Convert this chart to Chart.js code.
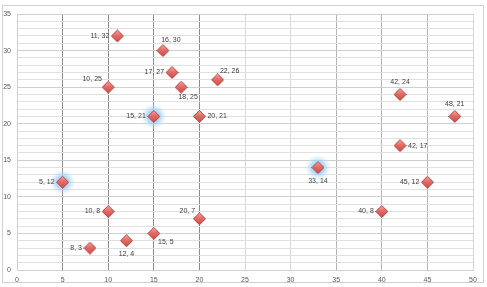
<!DOCTYPE html>
<html>
<head>
<meta charset="utf-8">
<script src="https://cdn.jsdelivr.net/npm/chart.js@4/dist/chart.umd.min.js"></script>
<style>
html,body{margin:0;padding:0;background:#fff;}
#wrap{position:absolute;left:0;top:0;width:487px;height:287px;}
</style>
</head>
<body>
<div id="wrap"><canvas id="c" width="487" height="287"></canvas></div>
<script>
// ---- data ----
const xValues = [11, 16, 17, 18, 22, 10, 15, 20, 42, 48, 42, 5, 33, 45, 10, 40, 20, 8, 12, 15];
const yValues = [32, 30, 27, 25, 26, 25, 21, 21, 24, 21, 17, 12, 14, 12, 8, 8, 7, 3, 4, 5];
const highlightX = [5, 15, 33];
const highlightY = [12, 21, 14];
const xTicks = [0, 5, 10, 15, 20, 25, 30, 35, 40, 45, 50];
const yTicks = [0, 5, 10, 15, 20, 25, 30, 35];
// label placement per point (style)
const labelPlacement = ['L','AR','L','BR','AR2','AL','L','R','A','A','R','L','B','L','L','L','AL2','L','B','BR2'];

const placementOffsets = {
  L:   {dx:-8, dy:0,  align:'right'},
  R:   {dx:8,  dy:0,  align:'left'},
  A:   {dx:0,  dy:-12, align:'center'},
  B:   {dx:0,  dy:13, align:'center'},
  AR:  {dx:8,  dy:-11, align:'center'},
  AR2: {dx:12, dy:-9, align:'center'},
  BR:  {dx:7,  dy:10, align:'center'},
  BR2: {dx:12, dy:9,  align:'center'},
  AL:  {dx:-16,dy:-8, align:'center'},
  AL2: {dx:-12,dy:-8, align:'center'}
};

const mainData = xValues.map((x, i) => ({x: x, y: yValues[i]}));
const glowData = highlightX.map((x, i) => ({x: x, y: highlightY[i]}));

const FONT = '"Liberation Sans", Arial, sans-serif';

// gradient diamond marker image
function makeDiamond() {
  const s = 13;
  const cv = document.createElement('canvas');
  cv.width = s; cv.height = s;
  const c = cv.getContext('2d');
  const h = s / 2;
  const g = c.createLinearGradient(0, 0.5, 0, s - 0.5);
  g.addColorStop(0, '#f7a9a7');
  g.addColorStop(0.45, '#e46c68');
  g.addColorStop(1, '#c4504c');
  c.beginPath();
  c.moveTo(h, 0.5);
  c.lineTo(s - 0.5, h);
  c.lineTo(h, s - 0.5);
  c.lineTo(0.5, h);
  c.closePath();
  c.fillStyle = g;
  c.fill();
  c.strokeStyle = '#b9423e';
  c.lineWidth = 1;
  c.stroke();
  return cv;
}
const diamondImg = makeDiamond();

const glowPlugin = {
  id: 'glow',
  beforeDatasetsDraw(chart) {
    const meta = chart.getDatasetMeta(0);
    const ctx = chart.ctx;
    ctx.save();
    meta.data.forEach(pt => {
      const g = ctx.createRadialGradient(pt.x, pt.y, 0, pt.x, pt.y, 13);
      g.addColorStop(0, 'rgba(120,190,240,0.95)');
      g.addColorStop(0.5, 'rgba(150,205,245,0.7)');
      g.addColorStop(1, 'rgba(200,230,250,0)');
      ctx.fillStyle = g;
      ctx.beginPath();
      ctx.arc(pt.x, pt.y, 13, 0, Math.PI * 2);
      ctx.fill();
    });
    ctx.restore();
  }
};

const labelPlugin = {
  id: 'ptlabels',
  afterDatasetsDraw(chart) {
    const meta = chart.getDatasetMeta(1);
    const ctx = chart.ctx;
    ctx.save();
    ctx.font = '7px ' + FONT;
    ctx.fillStyle = '#404040';
    ctx.textBaseline = 'middle';
    meta.data.forEach((pt, i) => {
      const p = placementOffsets[labelPlacement[i]];
      ctx.textAlign = p.align;
      ctx.fillText(xValues[i] + ', ' + yValues[i], pt.x + p.dx, pt.y + p.dy);
    });
    ctx.restore();
  }
};

const framePlugin = {
  id: 'frame',
  afterDraw(chart) {
    const ctx = chart.ctx;
    ctx.save();
    ctx.strokeStyle = '#d0d0d0';
    ctx.lineWidth = 1;
    ctx.strokeRect(2.5, 5.5, 481, 277);
    ctx.restore();
  }
};

function vColor(v) {
  if (v === 5 || v === 10 || v === 15 || v === 20) return '#8c8c8c';
  if (v === 35 || v === 40 || v === 45) return '#b4b4b4';
  return '#d6d6d6';
}

new Chart(document.getElementById('c'), {
  type: 'scatter',
  data: {
    datasets: [
      {
        data: glowData,
        pointRadius: 0,
        pointHoverRadius: 0,
        showLine: false
      },
      {
        data: mainData,
        pointStyle: diamondImg,
        pointRadius: 6,
        pointHoverRadius: 6,
        showLine: false
      }
    ]
  },
  options: {
    responsive: false,
    animation: false,
    devicePixelRatio: 1,
    plugins: { legend: {display: false}, tooltip: {enabled: false} },
    layout: { padding: {left: 0, top: 14, right: 14, bottom: 0} },
    scales: {
      x: {
        type: 'linear',
        min: 0, max: 50,
        afterFit(s) { s.height = 17; },
        afterBuildTicks(s) { s.ticks = xTicks.map(v => ({value: v})); },
        ticks: { color: '#595959', font: {size: 7, family: FONT}, padding: 6, maxRotation: 0 },
        grid: { drawTicks: false, color: c => vColor(c.tick ? c.tick.value : 0), lineWidth: 1 },
        border: { color: '#d0d0d0' }
      },
      y: {
        type: 'linear',
        min: 0, max: 35,
        afterFit(s) { s.width = 17; },
        ticks: {
          stepSize: 1,
          autoSkip: false,
          color: '#595959',
          font: {size: 7, family: FONT},
          padding: 6,
          callback: v => (yTicks.includes(v) ? String(v) : '')
        },
        grid: {
          drawTicks: false,
          color: c => (c.tick && c.tick.value % 5 === 0 ? '#cfcfcf' : '#e0e0e0'),
          lineWidth: 1
        },
        border: { color: '#d0d0d0' }
      }
    }
  },
  plugins: [glowPlugin, labelPlugin, framePlugin]
});
</script>
</body>
</html>
